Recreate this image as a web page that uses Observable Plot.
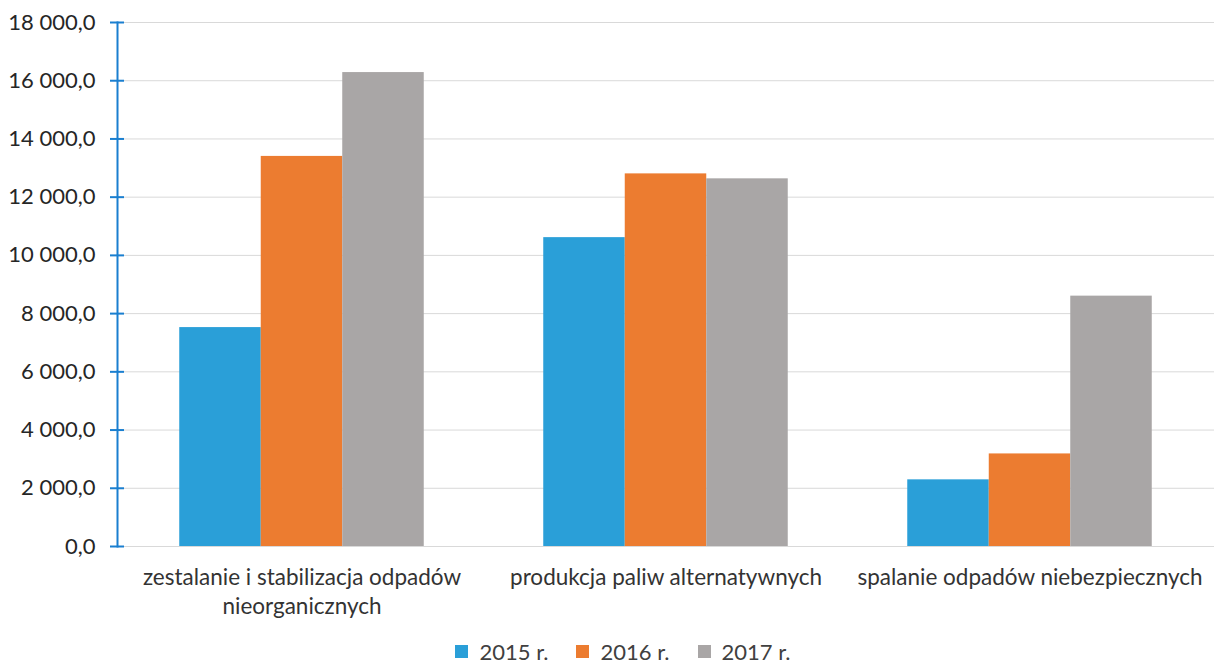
<!DOCTYPE html>
<html>
<head>
<meta charset="utf-8">
<script src="https://cdn.jsdelivr.net/npm/d3@7"></script>
<script src="https://cdn.jsdelivr.net/npm/@observablehq/plot@0.6"></script>
<style>
  html, body { margin: 0; padding: 0; background: #fff; }
  #chart { width: 1214px; }
  #legend {
    display: flex; justify-content: center; align-items: center;
    font-family: Lato, "Open Sans", sans-serif; font-size: 22px; color: #404040;
    height: 48px; padding-left: 32px; padding-top: 14px; box-sizing: border-box;
  }
  .item { display: flex; align-items: center; margin: 0 14px; }
  .sw { width: 13px; height: 13px; margin-right: 11px; }
</style>
</head>
<body>
<div id="chart"></div>
<div id="legend"></div>
<script>
const categories = [
  "zestalanie i stabilizacja odpadów\nnieorganicznych",
  "produkcja paliw alternatywnych",
  "spalanie odpadów niebezpiecznych"
];
const years = ["2015 r.", "2016 r.", "2017 r."];
const values2015 = [7520, 10610, 2290];
const values2016 = [13400, 12800, 3180];
const values2017 = [16280, 12630, 8600];
const yTicks = [0, 2000, 4000, 6000, 8000, 10000, 12000, 14000, 16000, 18000];
const colors = ["#2A9FD8", "#EC7C30", "#A9A6A6"];

const series = [values2015, values2016, values2017];
const data = [];
years.forEach((yr, j) => categories.forEach((c, i) => data.push({category: c, year: yr, value: series[j][i]})));

const locale = d3.formatLocale({decimal: ",", thousands: "\u00a0", grouping: [3], currency: ["", ""]});
const fmt = locale.format(",.1f");

const W = 1214, H = 620, ML = 117, MR = 0, MT = 22, MB = 74;
const pad = 0.0137;
const step = (W - ML - MR) / (3 - pad + 2 * pad);
const bw = step * (1 - pad);
const barW = 81.5;
const inset = (bw - barW) / 2;
const offsets = [-barW, 0, barW];

const marks = [
  Plot.ruleY(yTicks, {stroke: "#d9d9d9", strokeWidth: 1}),
  ...years.map((yr, j) => Plot.barY(data.filter(d => d.year === yr), {
    x: "category", y: "value", fill: colors[j],
    insetLeft: inset, insetRight: inset, dx: offsets[j]
  })),
  Plot.frame({anchor: "left", stroke: "#1a7fd0", strokeWidth: 2}),
  Plot.axisY({ticks: yTicks, tickFormat: fmt, tickSize: 14, dx: 7, tickPadding: 15,
    stroke: "#1a7fd0", strokeWidth: 2, fill: "#262626", fontSize: 22, label: null}),
  Plot.axisX({tickSize: 0, tickPadding: 19, fontSize: 22.5, fill: "#333", lineHeight: 1.25, label: null})
];

const chart = Plot.plot({
  width: W, height: H,
  marginLeft: ML, marginRight: MR, marginTop: MT, marginBottom: MB,
  style: {fontFamily: "Lato, 'Open Sans', sans-serif", background: "#fff", color: "#333"},
  x: {domain: categories, padding: pad, round: false},
  y: {domain: [0, 18000]},
  marks
});
document.getElementById("chart").appendChild(chart);

const legend = document.getElementById("legend");
years.forEach((yr, j) => {
  const it = document.createElement("div");
  it.className = "item";
  const sw = document.createElement("div");
  sw.className = "sw";
  sw.style.background = colors[j];
  const t = document.createElement("span");
  t.textContent = yr;
  it.appendChild(sw); it.appendChild(t);
  legend.appendChild(it);
});
</script>
</body>
</html>
